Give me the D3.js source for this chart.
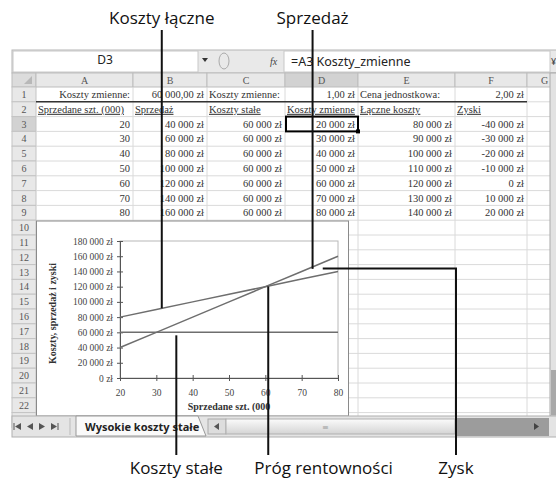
<!DOCTYPE html>
<html><head><meta charset="utf-8">
<script src="https://cdn.jsdelivr.net/npm/d3@7"></script>
<style>body{margin:0;background:#fff}svg{display:block}</style>
</head><body><svg id="c" width="556" height="481"></svg>
<script>
// ---------- data ----------
const units = [20, 30, 40, 50, 60, 70, 80];
const sales = [40000, 60000, 80000, 100000, 120000, 140000, 160000];
const fixedCosts = [60000, 60000, 60000, 60000, 60000, 60000, 60000];
const variableCosts = [20000, 30000, 40000, 50000, 60000, 70000, 80000];
const totalCosts = [80000, 90000, 100000, 110000, 120000, 130000, 140000];
const profits = [-40000, -30000, -20000, -10000, 0, 10000, 20000];
const yTicks = [0, 20000, 40000, 60000, 80000, 100000, 120000, 140000, 160000, 180000];
const xTicks = [20, 30, 40, 50, 60, 70, 80];
const columnLetters = ["A", "B", "C", "D", "E", "F", "G"];
const paramRow = ["Koszty zmienne:", "60 000,00 zł", "Koszty zmienne:", "1,00 zł", "Cena jednostkowa:", "2,00 zł"];
const headerRow = ["Sprzedane szt. (000)", "Sprzedaż", "Koszty stałe", "Koszty zmienne", "Łączne koszty", "Zyski"];
const xTitle = "Sprzedane szt. (000";
const yTitle = "Koszty, sprzedaż i zyski";
const sheetName = "Wysokie koszty stałe";
const nameBox = "D3";
const formula = "=A3 Koszty_zmienne";

// ---------- setup ----------
const svg = d3.select("#c");
const serif = "'Liberation Serif','Times New Roman',serif";
const sans = "'Open Sans','Noto Sans',sans-serif";
const ui = "'Noto Sans','DejaVu Sans',sans-serif";
const loc = d3.formatLocale({decimal: ",", thousands: " ", grouping: [3], currency: ["", ""], minus: "-"});
const zl = v => loc.format(",.0f")(v) + " zł";

const colEdges = [36, 133, 207, 285, 358, 455, 527, 570];
const rowH = 14.8;
const rowTop = n => 87 + (n - 1) * rowH;

svg.append("rect").attr("width", 556).attr("height", 481).attr("fill", "#fff");

// ---------- formula bar ----------
svg.append("rect").attr("x", 12).attr("y", 50).attr("width", 550).attr("height", 23).attr("fill", "#e9e9e9").attr("stroke", "#b5b5b5");
svg.append("rect").attr("x", 13).attr("y", 51).attr("width", 185).attr("height", 21).attr("fill", "#fff").attr("stroke", "#c8c8c8");
svg.append("text").attr("x", 105).attr("y", 64).attr("text-anchor", "middle").attr("font-family", ui).attr("font-size", 12).attr("fill", "#222").text(nameBox);
svg.append("path").attr("d", "M202,58 l6,0 l-3,4 z").attr("fill", "#333");
svg.append("ellipse").attr("cx", 224).attr("cy", 61).attr("rx", 5).attr("ry", 8).attr("fill", "none").attr("stroke", "#aaa");
svg.append("text").attr("x", 270).attr("y", 65).attr("font-family", serif).attr("font-style", "italic").attr("font-size", 10).attr("fill", "#444").text("fx");
svg.append("rect").attr("x", 284).attr("y", 51).attr("width", 266).attr("height", 21).attr("fill", "#fff").attr("stroke", "#c8c8c8");
svg.append("text").attr("x", 291).attr("y", 66).attr("font-family", ui).attr("font-size", 12.5).attr("fill", "#222").text(formula);
svg.append("text").attr("x", 551).attr("y", 65).attr("font-family", ui).attr("font-size", 9).attr("fill", "#444").text("¥");

// ---------- grid ----------
svg.append("rect").attr("x", 12).attr("y", 73).attr("width", 550).attr("height", 343).attr("fill", "#fff");
const rows = d3.range(1, 24);
svg.append("rect").attr("x", 12).attr("y", 73).attr("width", 24).attr("height", 14).attr("fill", "#dcdcdc").attr("stroke", "#bbb");
svg.append("path").attr("d", "M32,76 L32,84 L24,84 Z").attr("fill", "#b8b8b8");
columnLetters.forEach((c, i) => {
  const x0 = colEdges[i], x1 = colEdges[i + 1];
  svg.append("rect").attr("x", x0).attr("y", 73).attr("width", x1 - x0).attr("height", 14)
    .attr("fill", c === "D" ? "#d2d2d2" : "#e8e8e8").attr("stroke", "#bdbdbd");
  svg.append("text").attr("x", (x0 + x1) / 2 + (i === 6 ? -4 : 0)).attr("y", 84).attr("text-anchor", "middle")
    .attr("font-family", serif).attr("font-size", 10).attr("fill", "#555").text(c);
});
rows.forEach(r => {
  svg.append("rect").attr("x", 12).attr("y", rowTop(r)).attr("width", 24).attr("height", rowH)
    .attr("fill", r === 3 ? "#d2d2d2" : "#e8e8e8").attr("stroke", "#c4c4c4");
  svg.append("text").attr("x", 24).attr("y", rowTop(r) + 11).attr("text-anchor", "middle")
    .attr("font-family", serif).attr("font-size", 10).attr("fill", "#555").text(r);
});
rows.forEach(r => svg.append("line").attr("x1", 36).attr("x2", 550).attr("y1", rowTop(r + 1)).attr("y2", rowTop(r + 1)).attr("stroke", "#dadada"));
colEdges.slice(1, 7).forEach(x => svg.append("line").attr("x1", x).attr("x2", x).attr("y1", 87).attr("y2", 416).attr("stroke", "#dadada"));
svg.append("line").attr("x1", 36).attr("x2", 527).attr("y1", rowTop(2)).attr("y2", rowTop(2)).attr("stroke", "#333").attr("stroke-width", 1.6);

svg.append("clipPath").attr("id", "clipD").append("rect").attr("x", colEdges[3]).attr("y", 80).attr("width", colEdges[4] - colEdges[3]).attr("height", 50);

const cellText = (col, row, txt, align, opts = {}) => {
  const x0 = colEdges[col], x1 = colEdges[col + 1];
  const t = svg.append("text").attr("y", rowTop(row) + 11)
    .attr("x", align === "end" ? x1 - 3 : x0 + 2)
    .attr("text-anchor", align)
    .attr("font-family", serif).attr("font-size", 10.5).attr("fill", "#333").text(txt);
  if (opts.underline) t.attr("text-decoration", "underline");
  if (opts.clip) t.attr("clip-path", "url(#" + opts.clip + ")");
  return t;
};
const paramAlign = ["end", "end", "start", "end", "start", "end"];
paramRow.forEach((t, i) => cellText(i, 1, t, paramAlign[i]));
headerRow.forEach((t, i) => cellText(i, 2, t, "start", {underline: true, clip: i === 3 ? "clipD" : null}));
const tableCols = [units.map(String), sales.map(zl), fixedCosts.map(zl), variableCosts.map(zl), totalCosts.map(zl), profits.map(zl)];
tableCols.forEach((vals, ci) => vals.forEach((v, ri) => cellText(ci, ri + 3, v, "end")));
svg.append("rect").attr("x", colEdges[3] + 1).attr("y", rowTop(3)).attr("width", colEdges[4] - colEdges[3] - 1).attr("height", rowH)
  .attr("fill", "none").attr("stroke", "#000").attr("stroke-width", 2);
svg.append("rect").attr("x", colEdges[4] - 2).attr("y", rowTop(4) - 2).attr("width", 4).attr("height", 4).attr("fill", "#000");

// vertical scrollbar
svg.append("rect").attr("x", 550).attr("y", 73).attr("width", 8).attr("height", 343).attr("fill", "#e2e2e2").attr("stroke", "#aaa");
svg.append("rect").attr("x", 551).attr("y", 370).attr("width", 6).attr("height", 45).attr("fill", "#a8a8a8");

// ---------- embedded chart ----------
svg.append("rect").attr("x", 36.5).attr("y", 221).attr("width", 312).attr("height", 195).attr("fill", "#fff").attr("stroke", "#8a8a8a");
const x = d3.scaleLinear().domain([20, 80]).range([120, 338]);
const y = d3.scaleLinear().domain([0, 180000]).range([378, 241]);
svg.append("rect").attr("x", x(20)).attr("y", y(180000)).attr("width", x(80) - x(20)).attr("height", y(0) - y(180000))
  .attr("fill", "none").attr("stroke", "#b8b8b8");

const yAxis = svg.append("g").attr("transform", `translate(${x(20)},0)`)
  .call(d3.axisLeft(y).tickValues(yTicks).tickSize(3).tickPadding(4).tickFormat(zl));
yAxis.selectAll(".tick").append("line").attr("x2", 3).attr("stroke", "#555");
const xAxis = svg.append("g").attr("transform", `translate(0,${y(0)})`)
  .call(d3.axisBottom(x).tickValues(xTicks).tickSize(3).tickPadding(8).tickFormat(d3.format("d")));
xAxis.selectAll(".tick").append("line").attr("y2", -3).attr("stroke", "#555");
[yAxis, xAxis].forEach(a => {
  a.select(".domain").attr("stroke", "#555");
  a.selectAll(".tick line").attr("stroke", "#555");
  a.selectAll("text").attr("font-family", serif).attr("font-size", 9.5).attr("fill", "#444");
});

const lineGen = vals => d3.line().x((d, i) => x(units[i])).y(d => y(d))(vals);
[fixedCosts, totalCosts, sales].forEach(vals => {
  svg.append("path").attr("d", lineGen(vals)).attr("fill", "none").attr("stroke", "#6e6e6e").attr("stroke-width", 1.5);
});

svg.append("text").attr("x", (x(20) + x(80)) / 2).attr("y", 410).attr("text-anchor", "middle")
  .attr("font-family", serif).attr("font-weight", "bold").attr("font-size", 10).attr("fill", "#333").text(xTitle);
svg.append("text").attr("transform", `translate(56,${(y(0) + y(180000)) / 2 + 4}) rotate(-90)`).attr("text-anchor", "middle")
  .attr("font-family", serif).attr("font-weight", "bold").attr("font-size", 10).attr("fill", "#333").text(yTitle);

// ---------- sheet tab bar ----------
svg.append("rect").attr("x", 12).attr("y", 416).attr("width", 550).attr("height", 21).attr("fill", "#e4e4e4").attr("stroke", "#b0b0b0");
// nav buttons: |<  <  >  >|   (dir -1 = points left)
[[18, -1, true], [30, -1, false], [42, 1, false], [54, 1, true]].forEach(([cx, dir, bar]) => {
  svg.append("path").attr("d", `M${cx - 3 * dir},423 L${cx + 3 * dir},426.5 L${cx - 3 * dir},430 Z`).attr("fill", "#555");
  if (bar) svg.append("line").attr("x1", cx + 4 * dir).attr("x2", cx + 4 * dir).attr("y1", 423).attr("y2", 430).attr("stroke", "#555");
});
svg.append("line").attr("x1", 70).attr("x2", 70).attr("y1", 418).attr("y2", 435).attr("stroke", "#bbb");
svg.append("path").attr("d", "M76,416 L198,416 L206,436 L76,436 Z").attr("fill", "#fafafa").attr("stroke", "#999");
svg.append("text").attr("x", 85).attr("y", 431).attr("font-family", ui).attr("font-weight", "bold").attr("font-size", 11).attr("fill", "#222").text(sheetName);
svg.append("rect").attr("x", 208).attr("y", 419).attr("width", 18).attr("height", 15).attr("fill", "#ddd").attr("stroke", "#aaa");
svg.append("path").attr("d", "M219,423 L214,426.5 L219,430 Z").attr("fill", "#555");
const grad = svg.append("defs").append("linearGradient").attr("id", "sb").attr("x1", 0).attr("x2", 0).attr("y1", 0).attr("y2", 1);
grad.append("stop").attr("offset", 0).attr("stop-color", "#fbfbfb");
grad.append("stop").attr("offset", 1).attr("stop-color", "#d4d4d4");
svg.append("rect").attr("x", 226).attr("y", 419).attr("width", 229).attr("height", 15).attr("fill", "url(#sb)").attr("stroke", "#b0b0b0");
svg.append("text").attr("x", 322).attr("y", 430).attr("font-family", ui).attr("font-size", 8).attr("fill", "#999").text("≡");
svg.append("rect").attr("x", 455).attr("y", 418).attr("width", 94).attr("height", 18).attr("fill", "#9c9c9c");
svg.append("path").attr("d", "M534,423 L539,426.5 L534,430 Z").attr("fill", "#444");

// ---------- callouts ----------
const ink = "#111";
const callout = (x1, y1, x2, y2) => svg.append("line").attr("x1", x1).attr("y1", y1).attr("x2", x2).attr("y2", y2).attr("stroke", ink).attr("stroke-width", 2);
const label = (x0, y0, txt, anchor) => svg.append("text").attr("x", x0).attr("y", y0).attr("text-anchor", anchor || "middle")
  .attr("font-family", sans).attr("font-size", 17).attr("fill", ink).text(txt);
const along = (vals, u) => d3.scaleLinear().domain([units[0], units[units.length - 1]]).range([vals[0], vals[vals.length - 1]])(u);

const kl = 31.5;
callout(x(kl), 30, x(kl), y(along(totalCosts, kl)));
label(x(kl), 24, "Koszty łączne");
const sp = 73;
callout(x(sp), 30, x(sp), y(along(sales, sp)) + 2);
label(x(sp), 24, "Sprzedaż");
const ks = 35.5;
callout(x(ks), y(fixedCosts[0]) + 3, x(ks), 455);
label(x(ks), 474, "Koszty stałe");
const be = 60.8;
callout(x(be), y(along(sales, be)) + 1, x(be), 455);
label(x(be) - 14, 474, "Próg rentowności", "start");
const zx = 75.8, zy = 144000, zRight = 456;
callout(x(zx), y(zy), zRight + 1, y(zy));
callout(zRight, y(zy), zRight, 455);
label(zRight, 474, "Zysk");
</script></body></html>
